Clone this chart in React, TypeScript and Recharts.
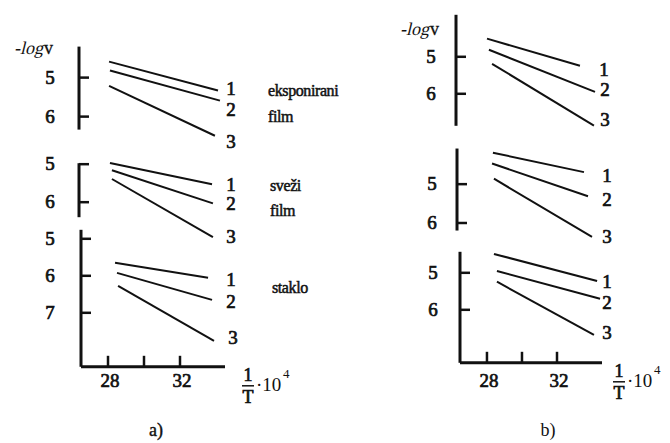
import { LineChart, Line, XAxis, YAxis, ReferenceLine } from "recharts";

// -log v at both ends of lines 1, 2, 3 (x is 1/T·10^4)
const A_EXP_X = [[28.06, 34.11], [28.11, 34.22], [28.06, 33.94]];
const A_EXP_Y = [[4.59, 5.33], [4.82, 5.59], [5.21, 6.49]];
const A_FRESH_X = [[28.11, 33.78], [28.22, 33.83], [28.22, 33.83]];
const A_FRESH_Y = [[4.97, 5.53], [5.16, 6.03], [5.39, 6.92]];
const A_GLASS_X = [[28.39, 33.56], [28.5, 33.78], [28.56, 33.89]];
const A_GLASS_Y = [[5.65, 6.05], [5.92, 6.65], [6.27, 7.76]];
const B_TOP_X = [[28.0, 33.31], [28.11, 34.17], [28.29, 34.11]];
const B_TOP_Y = [[4.51, 5.24], [4.81, 5.95], [5.19, 6.86]];
const B_MID_X = [[28.34, 33.54], [28.29, 33.77], [28.4, 34.0]];
const B_MID_Y = [[4.19, 4.69], [4.47, 5.31], [4.86, 6.36]];
const B_BOT_X = [[28.4, 34.29], [28.57, 34.46], [28.57, 34.11]];
const B_BOT_Y = [[4.49, 5.22], [4.95, 5.7], [5.24, 6.68]];

const LINE_NAMES = ["1", "2", "3"];
const Y_TICKS = [5, 6];
const Y_TICKS_GLASS = [5, 6, 7];
const X_TICKS = [28, 30, 32];
const X_TICK_LABELS = ["28", "", "32"];

const INK = "#111";
const SERIF = "Liberation Serif, Times New Roman, serif";
// only the regular serif face is available, so heavy text gets a thin outline
const HEAVY = { style: { fontFamily: SERIF }, fill: INK, stroke: INK, strokeWidth: 0.7 };
const PLAIN = { style: { fontFamily: SERIF }, fill: INK };

const ML = 60;
const MR = 90;
const MB = 50;
const XH = 30;
// extra room above / below the drawn y axis so lines may run past its ends
const EXT_TOP = 0.4;
const EXT_BOT = 0.9;

const YTick = (props: any) => {
  const { x, y, payload, labelDx } = props;
  return (
    <g>
      <line x1={x} y1={y} x2={x + 10} y2={y} stroke={INK} strokeWidth={2.5} />
      <text x={x + labelDx} y={y + 6} textAnchor="middle" fontSize={19} {...HEAVY}>
        {payload.value}
      </text>
    </g>
  );
};

const XTick = (props: any) => {
  const { x, y, payload, labelDy } = props;
  return (
    <g>
      <line x1={x} y1={y} x2={x} y2={y - 11} stroke={INK} strokeWidth={2.5} />
      <text x={x + 2} y={y + labelDy} textAnchor="middle" fontSize={19} {...HEAVY}>
        {X_TICK_LABELS[X_TICKS.indexOf(payload.value)]}
      </text>
    </g>
  );
};

// 1/T · 10^4 written past the right end of the x axis
const FracLabel = (props: any) => {
  const { viewBox, fracDx } = props;
  const x0 = viewBox.x + viewBox.width + fracDx;
  const y0 = viewBox.y;
  return (
    <g>
      <text x={x0} y={y0 + 14} textAnchor="middle" fontSize={18} {...HEAVY}>1</text>
      <line x1={x0 - 6} y1={y0 + 19} x2={x0 + 6} y2={y0 + 19} stroke={INK} strokeWidth={1.5} />
      <text x={x0} y={y0 + 36} textAnchor="middle" fontSize={18} {...HEAVY}>T</text>
      <text x={x0 + 8} y={y0 + 24} fontSize={19} {...PLAIN}>·10</text>
      <text x={x0 + 35} y={y0 + 11} fontSize={13} {...PLAIN}>4</text>
    </g>
  );
};

type PanelProps = {
  left: number;
  top: number;
  width: number;
  height: number;
  xDomain: [number, number];
  yRange: [number, number];
  yTicks: number[];
  xs: number[][];
  ys: number[][];
  labelOffsets: number[][];
  yLabelDx: number;
  fracDx?: number;
  xLabelDy?: number;
};

const Panel = ({
  left, top, width, height, xDomain, yRange, yTicks, xs, ys, labelOffsets, yLabelDx, fracDx, xLabelDy,
}: PanelProps) => {
  const showX = fracDx !== undefined;
  const ppu = height / (yRange[1] - yRange[0]);
  const extBot = showX ? 0 : EXT_BOT;
  const yDomain: [number, number] = [yRange[0] - EXT_TOP, yRange[1] + extBot];
  const padTop = EXT_TOP * ppu;
  const plotH = height + (EXT_TOP + extBot) * ppu;
  return (
    <div style={{ position: "absolute", left: left - ML, top: top - padTop }}>
      <LineChart
        width={width + ML + MR}
        height={plotH + MB}
        margin={{ top: 0, right: MR, left: 0, bottom: showX ? MB - XH : MB }}
      >
        <XAxis
          type="number"
          dataKey="x"
          domain={xDomain}
          allowDataOverflow
          ticks={X_TICKS}
          interval={0}
          hide={!showX}
          height={XH}
          axisLine={{ stroke: INK, strokeWidth: 3 }}
          tickLine={false}
          tickSize={0}
          tickMargin={0}
          tick={<XTick labelDy={xLabelDy} />}
          label={showX ? <FracLabel fracDx={fracDx} /> : undefined}
        />
        <YAxis
          type="number"
          domain={yDomain}
          reversed
          allowDataOverflow
          ticks={yTicks}
          interval={0}
          width={ML}
          axisLine={false}
          tickLine={false}
          tickSize={0}
          tickMargin={0}
          tick={<YTick labelDx={yLabelDx} />}
        />
        <ReferenceLine
          segment={[{ x: xDomain[0], y: yRange[0] }, { x: xDomain[0], y: yRange[1] }]}
          stroke={INK}
          strokeWidth={3}
          ifOverflow="visible"
        />
        {xs.map((xr, i) => (
          <Line
            key={LINE_NAMES[i]}
            data={xr.map((x, j) => ({ x, y: ys[i][j] }))}
            dataKey="y"
            stroke={INK}
            strokeWidth={2}
            dot={false}
            isAnimationActive={false}
            label={(p: any) => {
              if (p.index !== 1) return <g key={`l${i}-${p.index}`} />;
              const px = p.x ?? p.viewBox?.x;
              const py = p.y ?? p.viewBox?.y;
              return (
                <text
                  key={`l${i}`}
                  x={px + labelOffsets[i][0]}
                  y={py + labelOffsets[i][1] + 6}
                  textAnchor="middle"
                  fontSize={19}
                  {...HEAVY}
                >
                  {LINE_NAMES[i]}
                </text>
              );
            }}
          />
        ))}
      </LineChart>
    </div>
  );
};

// "-log" slanted, "v" upright
const LogV = ({ x, y }: { x: number; y: number }) => (
  <g>
    <text transform={`translate(${x},${y}) skewX(-14)`} fontSize={18} {...PLAIN}>-log</text>
    <text x={x + 30} y={y} fontSize={18} {...HEAVY} strokeWidth={0.3}>v</text>
  </g>
);

export default function App() {
  return (
    <div style={{ position: "absolute", left: 0, top: 0, width: 670, height: 443, background: "#fff", overflow: "hidden" }}>
      {/* a) */}
      <Panel left={79} top={47} width={146} height={83} xDomain={[26.39, 34.5]} yRange={[4.205, 6.333]}
        yTicks={Y_TICKS} xs={A_EXP_X} ys={A_EXP_Y} labelOffsets={[[13, -1], [11, 9], [16, 6]]} yLabelDx={-29} />
      <Panel left={79} top={163} width={146} height={54} xDomain={[26.39, 34.5]} yRange={[4.974, 6.395]}
        yTicks={Y_TICKS} xs={A_FRESH_X} ys={A_FRESH_Y} labelOffsets={[[19, 1], [18, 1], [18, 0]]} yLabelDx={-29} />
      <Panel left={81} top={230} width={144} height={137} xDomain={[26.5, 34.5]} yRange={[4.757, 8.459]}
        yTicks={Y_TICKS_GLASS} xs={A_GLASS_X} ys={A_GLASS_Y} labelOffsets={[[23, 2], [19, 2], [19, -3]]} yLabelDx={-31}
        fracDx={23} xLabelDy={20} />
      {/* b) */}
      <Panel left={456} top={15} width={146} height={111} xDomain={[26.23, 34.57]} yRange={[3.865, 6.865]}
        yTicks={Y_TICKS} xs={B_TOP_X} ys={B_TOP_Y} labelOffsets={[[24, 4], [10, -2], [11, -6]]} yLabelDx={-25} />
      <Panel left={457} top={149} width={145} height={82} xDomain={[26.29, 34.57]} yRange={[4.083, 6.194]}
        yTicks={Y_TICKS} xs={B_MID_X} ys={B_MID_Y} labelOffsets={[[23, 4], [19, 4], [15, 0]]} yLabelDx={-25} />
      <Panel left={460} top={252} width={142} height={111} xDomain={[26.46, 34.57]} yRange={[4.432, 7.432]}
        yTicks={Y_TICKS} xs={B_BOT_X} ys={B_BOT_Y} labelOffsets={[[10, 1], [7, 4], [13, -2]]} yLabelDx={-27}
        fracDx={17} xLabelDy={24} />

      <svg width={670} height={443} style={{ position: "absolute", left: 0, top: 0, pointerEvents: "none" }}>
        <LogV x={14} y={54} />
        <LogV x={400} y={35} />
        <g fontSize={16} letterSpacing={-0.4} {...HEAVY} strokeWidth={0.5}>
          <text x={268} y={96}>eksponirani</text>
          <text x={268} y={122}>film</text>
          <text x={270} y={191}>sveži</text>
          <text x={270} y={216}>film</text>
          <text x={272} y={293}>staklo</text>
        </g>
        <text x={156} y={436} textAnchor="middle" fontSize={18} {...HEAVY} strokeWidth={0.4}>a)</text>
        <text x={548} y={436} textAnchor="middle" fontSize={18} {...PLAIN}>b)</text>
      </svg>
    </div>
  );
}
